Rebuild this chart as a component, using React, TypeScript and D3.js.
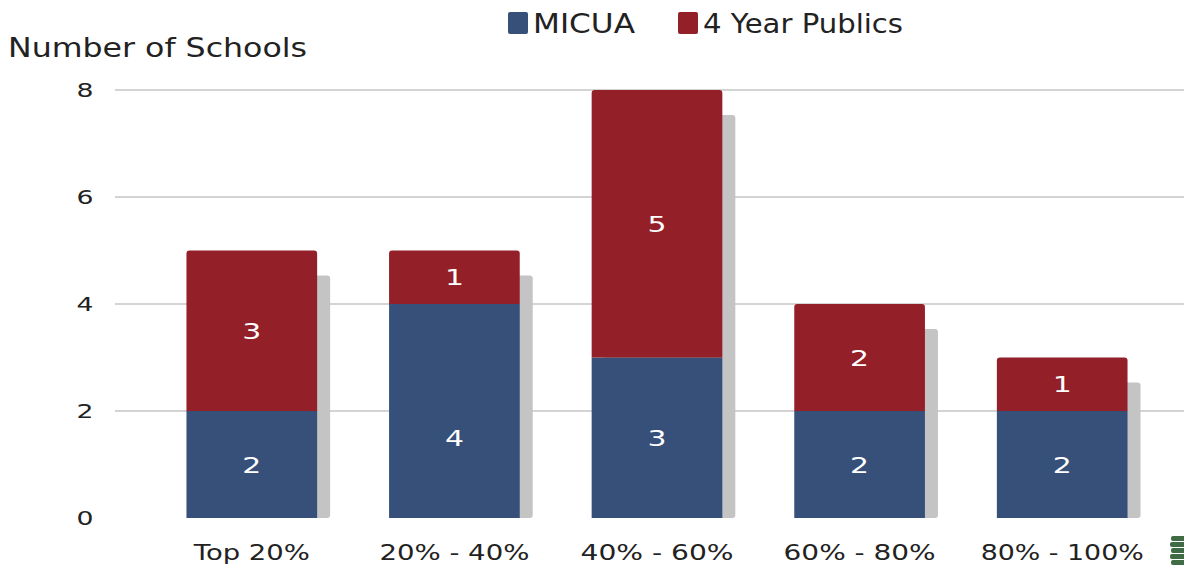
import React, { useRef, useEffect } from "react";
import * as d3 from "d3";

const categories = ["Top 20%", "20% - 40%", "40% - 60%", "60% - 80%", "80% - 100%"];
const micua = [2, 4, 3, 2, 2];
const publics = [3, 1, 5, 2, 1];
const yTicks = [0, 2, 4, 6, 8];
const seriesNames = ["MICUA", "4 Year Publics"];
const seriesColors = ["#37507a", "#931f29"];

const FONT = "'DejaVu Sans', 'Open Sans', sans-serif";

export default function App() {
  const ref = useRef<SVGSVGElement | null>(null);

  useEffect(() => {
    const width = 1184;
    const height = 566;
    const svg = d3.select(ref.current);
    svg.selectAll("*").remove();

    const x = d3.scaleBand().domain(categories).range([150, 1164]).paddingInner(0.355).paddingOuter(0.18);
    const y = d3.scaleLinear().domain([0, 8]).range([518, 90]);

    // gridlines
    svg
      .append("g")
      .selectAll("line")
      .data(yTicks.filter((t) => t > 0))
      .enter()
      .append("line")
      .attr("x1", 115)
      .attr("x2", width)
      .attr("y1", (d) => y(d))
      .attr("y2", (d) => y(d))
      .attr("stroke", "#d4d4d4")
      .attr("stroke-width", 2);

    // y tick labels
    svg
      .append("g")
      .selectAll("text")
      .data(yTicks)
      .enter()
      .append("text")
      .attr("x", 85)
      .attr("y", (d) => y(d) + 7)
      .attr("text-anchor", "middle")
      .attr("textLength", 17)
      .attr("lengthAdjust", "spacingAndGlyphs")
      .style("font-family", FONT)
      .style("font-size", "19px")
      .attr("fill", "#222")
      .text((d) => d);

    const rows = categories.map((c, i) => ({ c, a: micua[i], b: publics[i] }));
    const bw = x.bandwidth();

    // shadows
    svg
      .append("g")
      .selectAll("rect")
      .data(rows)
      .enter()
      .append("rect")
      .attr("x", (d) => (x(d.c) ?? 0) + 13)
      .attr("y", (d) => y(d.a + d.b) + 25)
      .attr("width", bw)
      .attr("height", (d) => y(0) - y(d.a + d.b) - 25)
      .attr("rx", 3)
      .attr("fill", "#c4c4c4");

    // bottom (MICUA)
    svg
      .append("g")
      .selectAll("rect")
      .data(rows)
      .enter()
      .append("rect")
      .attr("x", (d) => x(d.c) ?? 0)
      .attr("y", (d) => y(d.a))
      .attr("width", bw)
      .attr("height", (d) => y(0) - y(d.a))
      .attr("fill", seriesColors[0]);

    // top (publics) with rounded top corners
    svg
      .append("g")
      .selectAll("path")
      .data(rows)
      .enter()
      .append("path")
      .attr("d", (d) => {
        const x0 = x(d.c) ?? 0;
        const y0 = y(d.a + d.b);
        const y1 = y(d.a);
        const r = 3;
        return `M${x0},${y1}V${y0 + r}Q${x0},${y0} ${x0 + r},${y0}H${x0 + bw - r}Q${x0 + bw},${y0} ${x0 + bw},${y0 + r}V${y1}Z`;
      })
      .attr("fill", seriesColors[1]);

    // value labels
    const lab = svg.append("g").style("font-family", FONT).style("font-size", "22px").attr("fill", "#fff").attr("text-anchor", "middle");
    rows.forEach((d) => {
      const cx = (x(d.c) ?? 0) + bw / 2;
      const by = Math.max((y(0) + y(d.a)) / 2, (y(0) + y(3)) / 2);
      lab.append("text").attr("x", cx).attr("y", by + 8).attr("textLength", 19).attr("lengthAdjust", "spacingAndGlyphs").text(d.a);
      lab.append("text").attr("x", cx).attr("y", (y(d.a) + y(d.a + d.b)) / 2 + 8).attr("textLength", 19).attr("lengthAdjust", "spacingAndGlyphs").text(d.b);
    });

    // x labels
    const xLabLen = [116, 150, 153, 152, 163];
    svg
      .append("g")
      .selectAll("text")
      .data(categories)
      .enter()
      .append("text")
      .attr("x", (d) => (x(d) ?? 0) + bw / 2)
      .attr("y", 560)
      .attr("text-anchor", "middle")
      .attr("textLength", (d, i) => xLabLen[i])
      .attr("lengthAdjust", "spacingAndGlyphs")
      .style("font-family", FONT)
      .style("font-size", "21px")
      .attr("fill", "#222")
      .text((d) => d);

    // y title
    svg
      .append("text")
      .attr("x", 8)
      .attr("y", 57)
      .attr("textLength", 299)
      .attr("lengthAdjust", "spacingAndGlyphs")
      .style("font-family", FONT)
      .style("font-size", "26px")
      .attr("fill", "#222")
      .text("Number of Schools");

    // legend
    const legendX = [508, 678];
    const legendLen = [102, 200];
    seriesNames.forEach((name, i) => {
      svg.append("rect").attr("x", legendX[i]).attr("y", 12).attr("width", 20).attr("height", 22).attr("rx", 2).attr("fill", seriesColors[i]);
      svg
        .append("text")
        .attr("x", legendX[i] + 25)
        .attr("y", 33)
        .attr("textLength", legendLen[i])
        .attr("lengthAdjust", "spacingAndGlyphs")
        .style("font-family", FONT)
        .style("font-size", "26px")
        .attr("fill", "#222")
        .text(name);
    });

    // small green decoration at bottom right
    const deco = svg.append("g");
    [0, 1, 2, 3, 4].forEach((k) => {
      deco
        .append("rect")
        .attr("x", 1171 - (k % 2))
        .attr("y", 536 + k * 6)
        .attr("width", 16)
        .attr("height", 5)
        .attr("rx", 2)
        .attr("fill", "#3f6b45");
    });

    svg.attr("width", width).attr("height", height);
  }, []);

  return <svg ref={ref} width={1184} height={566} style={{ position: "absolute", left: 0, top: 0 }} />;
}
